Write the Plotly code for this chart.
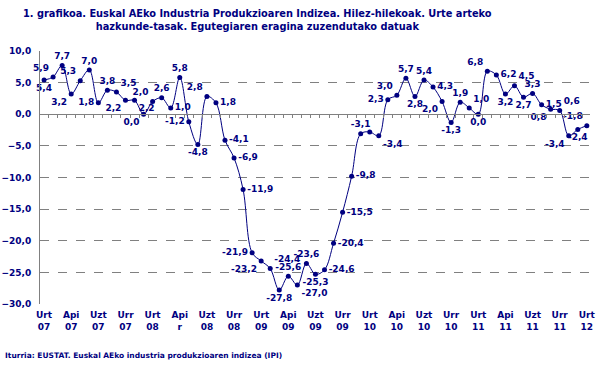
import plotly.graph_objects as go

# Monthly year-on-year growth rates, Jan 2007 .. Jan 2012
values = [
    5.4, 5.9, 7.7, 3.2, 5.3, 7.0, 1.8, 3.8, 3.5, 2.2, 2.2, 0.0,
    2.0, 2.6, 1.0, 5.8, -1.2, -4.8, 2.8, 1.8, -4.1, -6.9, -11.9, -21.9,
    -23.2, -24.4, -27.8, -25.6, -27.0, -23.6, -25.3, -24.6, -20.4, -15.5, -9.8, -3.1,
    -2.8, -3.4, 2.3, 3.0, 5.7, 2.8, 5.4, 4.3, 2.0, -1.3, 1.9, 1.0,
    0.0, 6.8, 6.2, 3.2, 4.5, 2.7, 3.3, 1.5, 0.8, 0.6, -3.4, -2.4,
    -1.8,
]
# months whose data label is not shown in the reference
unlabeled = [36]

tick_labels = [
    "Urt<br>07", "Api<br>07", "Uzt<br>07", "Urr<br>07",
    "Urt<br>08", "Api<br>r", "Uzt<br>08", "Urr<br>08",
    "Urt<br>09", "Api<br>09", "Uzt<br>09", "Urr<br>09",
    "Urt<br>10", "Api<br>10", "Uzt<br>10", "Urr<br>10",
    "Urt<br>11", "Api<br>11", "Uzt<br>11", "Urr<br>11",
    "Urt<br>12",
]

label_pos = [
    "bottom center", "top left", "top center", "bottom left", "top left", "top center",
    "middle left", "top center", "top right", "bottom left", "bottom right", "bottom left",
    "top left", "top center", "middle right", "top center", "middle left", "bottom center",
    "top left", "middle right", "middle right", "middle right", "middle right", "middle left",
    "bottom left", "top right", "bottom center", "top center", "bottom right", "top center",
    "bottom center", "middle right", "middle right", "middle right", "middle right", "top center",
    "top center", "bottom right", "middle left", "top left", "top center", "bottom center",
    "top center", "middle right", "bottom left", "bottom center", "top center", "top right",
    "bottom center", "top left", "middle right", "bottom center", "top right", "bottom center",
    "top center", "middle right", "bottom left", "top right", "bottom left", "bottom center",
    "top left",
]

NAVY = "#000080"
GREY = "#808080"
FONT = "DejaVu Sans"
X_RANGE = [-0.45, 60.35]

x = list(range(len(values)))
texts = ["" if i in unlabeled else f"{v:.1f}".replace(".", ",") for i, v in enumerate(values)]

fig = go.Figure()
fig.add_trace(go.Scatter(
    x=x, y=values, mode="lines+markers+text",
    line=dict(color=NAVY, width=1, shape="spline", smoothing=1),
    marker=dict(color=NAVY, size=5),
    text=texts, textposition=label_pos,
    textfont=dict(family=FONT, size=9, color=NAVY, weight="bold"),
    cliponaxis=False, showlegend=False, hoverinfo="x+y",
))
# empty trace so the zero-crossing category axis is drawn
fig.add_trace(go.Scatter(x=[None], y=[None], xaxis="x2", yaxis="y",
                         showlegend=False, hoverinfo="skip"))

fig.update_layout(
    width=601, height=379,
    margin=dict(l=40, r=11, t=51, b=75, autoexpand=False),
    paper_bgcolor="white", plot_bgcolor="white",
    separators=",.",
    font=dict(family=FONT, color=NAVY, size=9),
    xaxis=dict(
        range=X_RANGE, autorange=False, tickvals=list(range(0, 61, 3)), ticktext=tick_labels,
        showgrid=False, zeroline=False, showline=False, ticks="",
        tickfont=dict(family=FONT, size=9, color=NAVY, weight="bold"),
        ticklabelstandoff=4, automargin=False,
    ),
    xaxis2=dict(
        overlaying="x", anchor="free", position=0.75,
        range=X_RANGE, autorange=False,
        showgrid=False, zeroline=False, showline=True, linecolor=GREY, linewidth=1,
        ticks="outside", tick0=0.5, dtick=1, ticklen=3, tickcolor=GREY,
        showticklabels=False, automargin=False,
    ),
    yaxis=dict(
        range=[-30, 10], autorange=False, dtick=5, tickformat=".1f",
        showgrid=True, gridcolor=GREY, griddash="dash", gridwidth=1,
        zeroline=False, showline=True, linecolor=GREY, linewidth=1,
        tickfont=dict(family=FONT, size=9, color=NAVY, weight="bold"),
        ticks="", ticklabelstandoff=6, automargin=False,
    ),
    annotations=[
        dict(
            text="1. grafikoa. Euskal AEko Industria Produkzioaren Indizea. Hilez-hilekoak. Urte arteko<br>"
                 "hazkunde-tasak. Egutegiaren eragina zuzendutako datuak",
            xref="paper", yref="paper", x=(257 - 40) / 550, y=(304 - 20) / 253,
            xanchor="center", yanchor="middle", showarrow=False,
            font=dict(family=FONT, size=9.8, color=NAVY, weight="bold"),
        ),
        dict(
            text="Iturria: EUSTAT. Euskal AEko industria produkzioaren indizea (IPI)",
            xref="paper", yref="paper", x=(3 - 40) / 550, y=(304 - 355) / 253,
            xanchor="left", yanchor="middle", showarrow=False,
            font=dict(family=FONT, size=7.5, color=NAVY, weight="bold"),
        ),
    ],
)

fig.write_html("out.html", config={"displayModeBar": False},
               post_script="document.body.style.margin='0';")
